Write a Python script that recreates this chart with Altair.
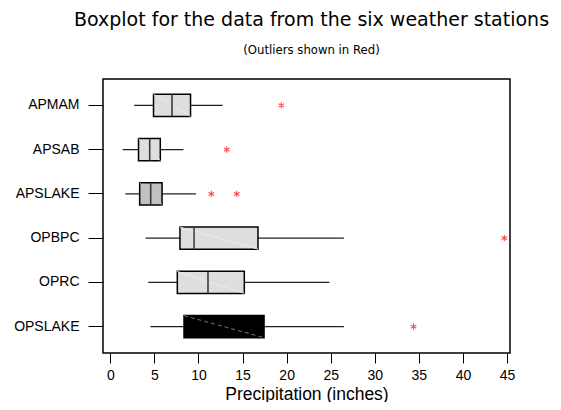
import altair as alt
import pandas as pd

stations = ["APMAM", "APSAB", "APSLAKE", "OPBPC", "OPRC", "OPSLAKE"]
whisker_low = [2.7, 1.4, 1.7, 4.0, 4.3, 4.55]
q1 = [4.9, 3.2, 3.33, 7.9, 7.6, 8.36]
median = [7.0, 4.47, 4.58, 9.5, 11.08, 12.1]
q3 = [9.1, 5.67, 5.87, 16.75, 15.2, 17.44]
whisker_high = [12.75, 8.3, 9.72, 26.5, 24.85, 26.5]

outlier_station = ["APMAM", "APSAB", "APSLAKE", "APSLAKE", "OPBPC", "OPSLAKE"]
outlier_value = [19.4, 13.2, 11.46, 14.34, 44.7, 34.4]

x_ticks = [0, 5, 10, 15, 20, 25, 30, 35, 40, 45]

df = pd.DataFrame({
    "station": stations,
    "lo": whisker_low,
    "q1": q1,
    "med": median,
    "q3": q3,
    "hi": whisker_high,
})
out = pd.DataFrame({"station": outlier_station, "value": outlier_value})

xscale = alt.Scale(domain=[-0.83, 45.34], nice=False, zero=False)
yscale = alt.Scale(domain=stations, paddingInner=0.5, paddingOuter=0.345)

X = alt.X("lo:Q", scale=xscale,
          axis=alt.Axis(title="Precipitation (inches)", values=x_ticks, grid=False,
                        domain=False, tickSize=10, tickColor="black", tickWidth=1,
                        labelFont="Liberation Sans", labelFontSize=14, labelColor="black",
                        labelPadding=5, titleFont="Liberation Sans", titleFontSize=17.5,
                        titleFontWeight="normal", titleColor="black", titlePadding=3))
Y = alt.Y("station:N", scale=yscale, sort=stations,
          axis=alt.Axis(title=None, grid=False, domain=False, tickSize=15,
                        tickColor="black", tickWidth=1, labelFont="Liberation Sans",
                        labelFontSize=14, labelColor="black", labelPadding=9))

base = alt.Chart(df)

whiskers = base.mark_rule(color="#222222", strokeWidth=1.3).encode(
    x=X, x2="hi:Q", y=Y)

boxes = base.mark_bar(stroke="black", strokeWidth=1.5).encode(
    x=alt.X("q1:Q", scale=xscale), x2="q3:Q", y=alt.Y("station:N", scale=yscale, sort=stations),
    fill=alt.Fill("station:N", scale=alt.Scale(domain=stations,
                  range=["#dedede", "#dedede", "#c0c0c0", "#dedede", "#dedede", "#000000"]),
                  legend=None))

diag = base.mark_rule(yOffset=-11, y2Offset=11, strokeWidth=1).encode(
    x=alt.X("q1:Q", scale=xscale), x2="q3:Q",
    y=alt.Y("station:N", scale=yscale, sort=stations), y2="station",
    color=alt.Color("station:N", scale=alt.Scale(domain=stations,
                    range=["#eeeeee", "#eeeeee", "#d0d0d0", "#eeeeee", "#eeeeee", "#777777"]),
                    legend=None),
    strokeDash=alt.StrokeDash("station:N", scale=alt.Scale(domain=stations,
                    range=[[1, 0], [1, 0], [1, 0], [1, 0], [1, 0], [4, 3]]), legend=None))

medians = base.mark_tick(size=22, thickness=1.6, opacity=1, strokeWidth=0).encode(
    x=alt.X("med:Q", scale=xscale), y=alt.Y("station:N", scale=yscale, sort=stations),
    fill=alt.Fill("station:N", scale=alt.Scale(domain=stations,
                    range=["#3a3a3a", "#3a3a3a", "#3a3a3a", "#444444", "#3a3a3a", "#000000"]),
                    legend=None))

asterisk = "M0,-1L0,1M-0.866,-0.5L0.866,0.5M-0.866,0.5L0.866,-0.5"
outliers = alt.Chart(out).mark_point(shape=asterisk, size=40, stroke="#ff4d4d",
                                     strokeWidth=1.1, filled=False, opacity=1).encode(
    x=alt.X("value:Q", scale=xscale), y=alt.Y("station:N", scale=yscale, sort=stations))

chart = alt.layer(whiskers, boxes, diag, medians, outliers).resolve_scale(
    color="independent", fill="independent",
    strokeDash="independent").properties(
    width=407, height=274,
    autosize=alt.AutoSizeParams(type="none"),
    padding={"left": 95, "top": 71, "right": 43, "bottom": 49},
    title=alt.TitleParams(
        text="Boxplot for the data from the six weather stations",
        subtitle="(Outliers shown in Red)",
        font="DejaVu Sans", fontSize=19, fontWeight="normal", color="black",
        subtitleFont="DejaVu Sans", subtitleFontSize=11.7, subtitleColor="black",
        anchor="middle", offset=22, subtitlePadding=15, dx=5),
).configure(background="white").configure_view(stroke="black", strokeWidth=1.5)

chart.save("out.html", embed_options={"renderer": "svg", "actions": False})
